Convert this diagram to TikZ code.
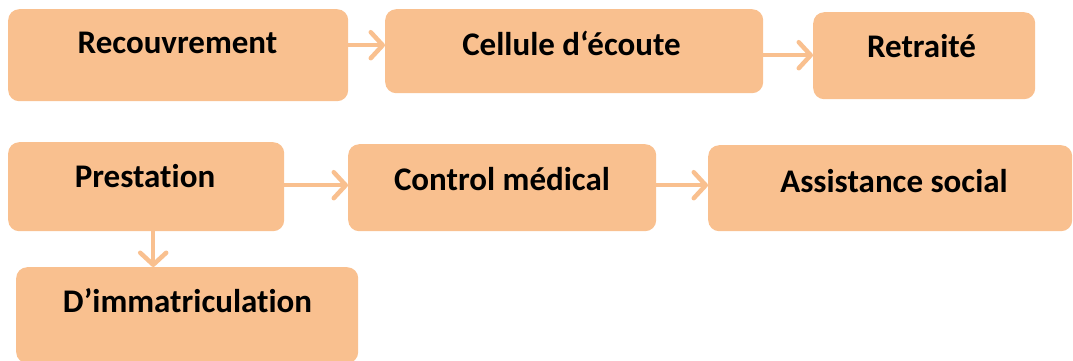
\documentclass[tikz,border=0pt]{standalone}
\usepackage{fontspec}
\setmainfont[Ligatures={NoCommon}]{Carlito}
\usetikzlibrary{arrows.meta}
\definecolor{boxfill}{HTML}{F9C08F}
\tikzset{
  box/.style={fill=boxfill, draw=none, rounded corners=11pt, anchor=north west, inner sep=0pt},
  lbl/.style={anchor=base, inner sep=0pt, font=\fontsize{33}{38}\selectfont\bfseries, text=black},
  arr/.style={draw=boxfill, line width=4.5pt, -{Straight Barb[length=12pt,width=26pt,line cap=round,line join=round]}}
}
\begin{document}
\begin{tikzpicture}[x=1pt,y=-1pt]
\useasboundingbox (0,0) rectangle (1073,360);
% first row
\node[box, minimum width=340pt, minimum height=92pt] (rec) at (8,9) {};
\node[box, minimum width=378pt, minimum height=84pt] (cel) at (385,9) {};
\node[box, minimum width=222pt, minimum height=87pt] (ret) at (813,12) {};
% second row
\node[box, minimum width=276pt, minimum height=89pt] (pre) at (8,142) {};
\node[box, minimum width=308pt, minimum height=87pt] (con) at (348,144) {};
\node[box, minimum width=364pt, minimum height=86pt] (ass) at (708,145) {};
% third row
\node[box, minimum width=342pt, minimum height=96pt] (dim) at (16,267) {};
% labels
\node[lbl] (recT) at (177.5,53) {Recouvrement};
\node[lbl] (celT) at (571.5,55) {Cellule d‘écoute};
\node[lbl] (retT) at (921.5,57) {Retraité};
\node[lbl] (preT) at (145,187) {Prestation};
\node[lbl] (conT) at (502,190) {Control médical};
\node[lbl] (assT) at (894,192) {Assistance social};
\node[lbl] (dimT) at (187.5,312) {D’immatriculation};
% connectors
\draw[arr] ([yshift=10pt]rec.east) -- ([yshift=10pt]rec.east -| cel.west);
\draw[arr] ([yshift=-4pt]cel.east) -- ([yshift=-4pt]cel.east -| ret.west);
\draw[arr] ([yshift=1.5pt]pre.east) -- ([yshift=1.5pt]pre.east -| con.west);
\draw[arr] ([yshift=2.5pt]con.east) -- ([yshift=2.5pt]con.east -| ass.west);
\draw[arr] ([xshift=7pt]pre.south) -- ([xshift=7pt]pre.south |- dim.north);
\end{tikzpicture}
\end{document}
